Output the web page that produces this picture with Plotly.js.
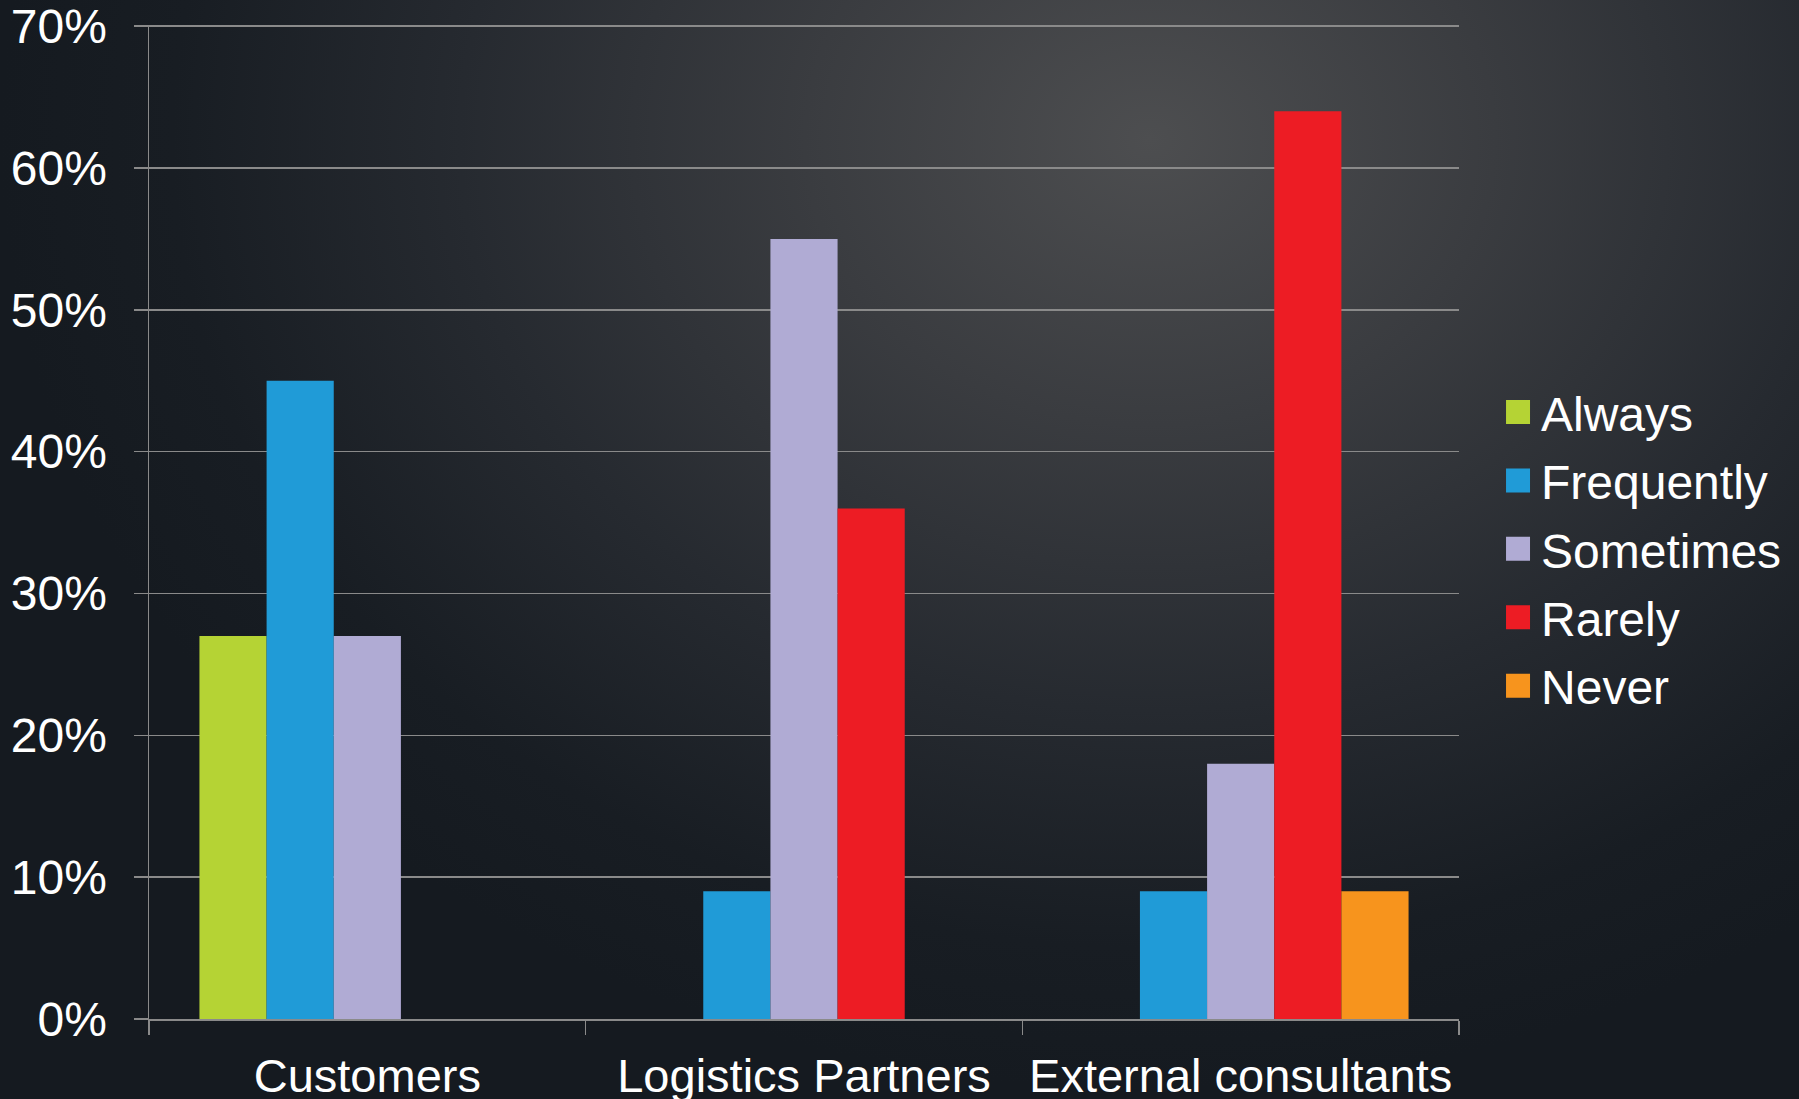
<!DOCTYPE html>
<html>
<head>
<meta charset="utf-8">
<script src="https://cdn.plot.ly/plotly-3.0.1.min.js"></script>
<style>
  html, body { margin: 0; padding: 0; width: 1799px; height: 1099px; overflow: hidden; }
  body {
    background: radial-gradient(ellipse 1150px 950px at 1150px 140px, #4d4e50 0%, #3a3c40 30%, #262a30 60%, #181d23 85%, #151a20 100%);
  }
  #chart { width: 1799px; height: 1099px; }
</style>
</head>
<body>
<div id="chart"></div>
<script>
const categories = ["Customers", "Logistics Partners", "External consultants"];
const seriesNames = ["Always", "Frequently", "Sometimes", "Rarely", "Never"];
const always     = [27, null, null];
const frequently = [45, 9, 9];
const sometimes  = [27, 55, 18];
const rarely     = [null, 36, 64];
const never      = [null, null, 9];
const yTicks = [0, 10, 20, 30, 40, 50, 60, 70];

const seriesValues = [always, frequently, sometimes, rarely, never];
const colors = ["#b5d334", "#209bd7", "#b0abd4", "#ed1c24", "#f7941d"];

const traces = seriesNames.map((name, i) => ({
  type: "bar",
  name: name,
  legendgroup: "g" + i,
  x: categories,
  y: seriesValues[i],
  marker: { color: colors[i], line: { width: 0 } },
  hoverinfo: "skip"
}));

const font = { family: "Liberation Sans, Arial, sans-serif", color: "#ffffff" };
const gridColor = "#8a8a8a";

const layout = {
  width: 1799,
  height: 1099,
  paper_bgcolor: "rgba(0,0,0,0)",
  plot_bgcolor: "rgba(0,0,0,0)",
  margin: { l: 149, r: 340, t: 25, b: 80, pad: 0 },
  barmode: "group",
  bargap: 0.231,
  bargroupgap: 0,
  font: font,
  showlegend: true,
  legend: {
    x: 1.0275, xanchor: "left",
    y: 0.473, yanchor: "middle",
    font: { family: font.family, size: 48, color: "#ffffff" },
    bgcolor: "rgba(0,0,0,0)",
    tracegroupgap: 3,
    itemwidth: 36,
    itemclick: false
  },
  xaxis: {
    type: "category",
    tickson: "boundaries",
    ticks: "outside",
    ticklen: 14,
    tickwidth: 1.5,
    tickcolor: gridColor,
    showline: true,
    linecolor: gridColor,
    linewidth: 1.5,
    showgrid: false,
    zeroline: false,
    tickangle: 0,
    tickfont: { family: font.family, size: 47, color: "#ffffff" },
    ticklabelstandoff: 15,
    fixedrange: true
  },
  yaxis: {
    range: [0, 70.08],
    tickvals: yTicks,
    ticktext: yTicks.map(v => v + "%"),
    ticks: "outside",
    ticklen: 14,
    tickwidth: 1.5,
    tickcolor: gridColor,
    showline: true,
    linecolor: gridColor,
    linewidth: 1.5,
    showgrid: true,
    gridcolor: gridColor,
    gridwidth: 1.5,
    zeroline: false,
    tickfont: { family: font.family, size: 48, color: "#ffffff" },
    ticklabelstandoff: 17,
    ticklabeloverflow: "allow",
    fixedrange: true
  }
};

Plotly.newPlot("chart", traces, layout, { staticPlot: true, displayModeBar: false }).then(function () {
  document.querySelectorAll("#chart .legendpoints path").forEach(function (p) {
    p.setAttribute("d", "M12,12H-12V-12H12Z");
  });
});
</script>
</body>
</html>
